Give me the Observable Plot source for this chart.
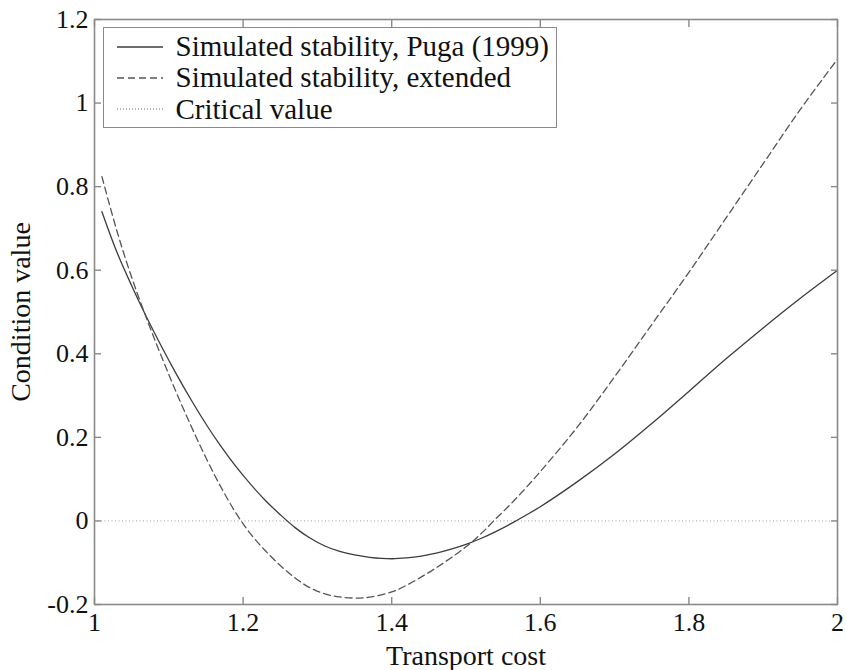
<!DOCTYPE html>
<html>
<head>
<meta charset="utf-8">
<script src="https://cdn.jsdelivr.net/npm/d3@7"></script>
<script src="https://cdn.jsdelivr.net/npm/@observablehq/plot@0.6"></script>
<style>
  html, body { margin: 0; padding: 0; background: #fff; }
  #wrap { position: relative; width: 846px; height: 670px; font-family: "Liberation Serif", "Times New Roman", serif; }
  #legend { position: absolute; left: 103px; top: 27px; width: 452px; height: 99px; border: 1.5px solid #8a8a8a; background: #fff; }
  .row { position: absolute; left: 0; height: 31px; display: flex; align-items: center; white-space: nowrap; }
  .row svg { margin-left: 12.5px; margin-right: 13px; }
  .row span { font-size: 29px; line-height: 31px; color: #111; }
</style>
</head>
<body>
<div id="wrap">
  <div id="chart"></div>
  <div id="legend"></div>
</div>
<script>
// ---- data ----
const transportCost = [1.01, 1.03, 1.05, 1.07, 1.09, 1.11, 1.13, 1.15, 1.17, 1.19, 1.21, 1.23, 1.25, 1.27, 1.29, 1.31, 1.33, 1.35, 1.37, 1.40, 1.42, 1.44, 1.46, 1.48, 1.50, 1.52, 1.54, 1.56, 1.58, 1.60, 1.65, 1.70, 1.75, 1.80, 1.85, 1.90, 1.95, 2.00];
const pugaValues = [0.740, 0.644, 0.563, 0.488, 0.418, 0.352, 0.290, 0.232, 0.179, 0.131, 0.088, 0.049, 0.015, -0.016, -0.041, -0.060, -0.073, -0.0815, -0.087, -0.0905, -0.0885, -0.084, -0.077, -0.0675, -0.056, -0.042, -0.0255, -0.007, 0.013, 0.034, 0.094, 0.160, 0.233, 0.310, 0.388, 0.462, 0.533, 0.600];
const extendedValues = [0.824, 0.695, 0.583, 0.485, 0.394, 0.308, 0.227, 0.151, 0.0815, 0.020, -0.031, -0.0715, -0.1065, -0.1365, -0.160, -0.1745, -0.182, -0.1845, -0.1825, -0.170, -0.154, -0.134, -0.112, -0.088, -0.062, -0.031, 0.005, 0.040, 0.078, 0.118, 0.225, 0.345, 0.470, 0.595, 0.725, 0.855, 0.985, 1.105];
const criticalValue = 0;
const xTicks = [1, 1.2, 1.4, 1.6, 1.8, 2];
const xTickLabels = ["1", "1.2", "1.4", "1.6", "1.8", "2"];
const yTicks = [-0.2, 0, 0.2, 0.4, 0.6, 0.8, 1, 1.2];
const yTickLabels = ["-0.2", "0", "0.2", "0.4", "0.6", "0.8", "1", "1.2"];
const seriesNames = ["Simulated stability, Puga (1999)", "Simulated stability, extended", "Critical value"];

const puga = transportCost.map((x, i) => ({x, y: pugaValues[i]}));
const extended = transportCost.map((x, i) => ({x, y: extendedValues[i]}));

const frameColor = "#8a8a8a";
const xFmt = d => xTickLabels[xTicks.findIndex(t => Math.abs(t - d) < 1e-9)];
const yFmt = d => yTickLabels[yTicks.findIndex(t => Math.abs(t - d) < 1e-9)];

const chart = Plot.plot({
  width: 846,
  height: 670,
  marginLeft: 94,
  marginRight: 9,
  marginTop: 19,
  marginBottom: 66,
  style: { fontFamily: "'Liberation Serif', 'Times New Roman', serif", fontSize: "26px", color: "#111", background: "#fff" },
  x: { domain: [1, 2], ticks: xTicks, tickFormat: xFmt },
  y: { domain: [-0.2, 1.2], ticks: yTicks, tickFormat: yFmt },
  marks: [
    Plot.ruleY([criticalValue], { stroke: "#9a9a9a", strokeWidth: 1, strokeDasharray: "1,2.5" }),
    Plot.line(puga, { x: "x", y: "y", curve: "catmull-rom", stroke: "#3c3c3c", strokeWidth: 1.3 }),
    Plot.line(extended, { x: "x", y: "y", curve: "catmull-rom", stroke: "#555", strokeWidth: 1.3, strokeDasharray: "7,4" }),
    Plot.frame({ stroke: frameColor, strokeWidth: 1.6 }),
    Plot.axisX({ anchor: "bottom", ticks: xTicks, tickFormat: xFmt, tickSize: -7, tickPadding: 15, stroke: frameColor, strokeWidth: 1.4, fontSize: 26, label: "Transport cost", labelAnchor: "center", labelArrow: "none", labelOffset: 60 }),
    Plot.axisX({ anchor: "top", ticks: xTicks, text: null, tickSize: -7, stroke: frameColor, strokeWidth: 1.4, label: null }),
    Plot.axisY({ anchor: "left", ticks: yTicks, tickFormat: yFmt, tickSize: -7, tickPadding: 13, stroke: frameColor, strokeWidth: 1.4, fontSize: 26, label: "Condition value", labelAnchor: "center", labelArrow: "none", labelOffset: 84 }),
    Plot.axisY({ anchor: "right", ticks: yTicks, text: null, tickSize: -7, stroke: frameColor, strokeWidth: 1.4, label: null })
  ]
});
document.getElementById("chart").appendChild(chart);
// axis titles slightly larger than tick labels
chart.querySelectorAll('[aria-label="x-axis label"] text, [aria-label="y-axis label"] text').forEach(t => t.setAttribute("font-size", "28"));

// ---- legend ----
const legend = document.getElementById("legend");
const styles = [
  { dash: null, color: "#3c3c3c" },
  { dash: "7,4", color: "#555" },
  { dash: "1,2", color: "#9a9a9a" }
];
const tops = [3, 34, 65.5];
seriesNames.forEach((name, i) => {
  const row = document.createElement("div");
  row.className = "row";
  row.style.top = tops[i] + "px";
  const s = styles[i];
  row.innerHTML = `<svg width="46" height="10"><line x1="0" x2="46" y1="5" y2="5" stroke="${s.color}" stroke-width="1.3" ${s.dash ? `stroke-dasharray="${s.dash}"` : ""}/></svg><span>${name}</span>`;
  legend.appendChild(row);
});
</script>
</body>
</html>
